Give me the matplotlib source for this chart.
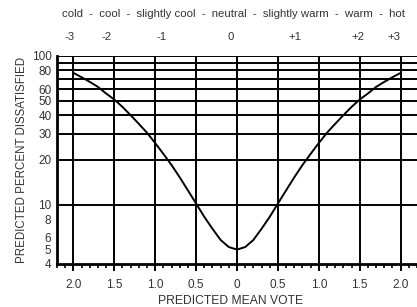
import matplotlib.pyplot as plt
from matplotlib.ticker import FixedLocator, MultipleLocator, NullFormatter

plt.rcParams['font.family'] = ['Liberation Sans', 'DejaVu Sans']

# PMV vs PPD
pmv = [-2.0, -1.9, -1.8, -1.7, -1.6, -1.5, -1.4, -1.3, -1.2, -1.1, -1.0,
       -0.9, -0.8, -0.7, -0.6, -0.5, -0.4, -0.3, -0.2, -0.1, 0.0,
       0.1, 0.2, 0.3, 0.4, 0.5, 0.6, 0.7, 0.8, 0.9, 1.0,
       1.1, 1.2, 1.3, 1.4, 1.5, 1.6, 1.7, 1.8, 1.9, 2.0]
ppd = [77, 72, 67, 62, 56, 51, 45.5, 40, 35, 30.5, 26,
       22, 18.5, 15.3, 12.5, 10.2, 8.3, 6.9, 5.8, 5.2, 5.0,
       5.2, 5.8, 6.9, 8.3, 10.2, 12.5, 15.3, 18.5, 22, 26,
       30.5, 35, 40, 45.5, 51, 56, 62, 67, 72, 77]

x_ticks = [-2.0, -1.5, -1.0, -0.5, 0, 0.5, 1.0, 1.5, 2.0]
x_labels = ['2.0', '1.5', '1.0', '0.5', '0', '0.5', '1.0', '1.5', '2.0']
y_grid = [10, 20, 30, 40, 50, 60, 70, 80, 90, 100]
y_ticks = [4, 5, 6, 8, 10, 20, 30, 40, 50, 60, 80, 100]

sensation = 'cold  -  cool  -  slightly cool  -  neutral  -  slightly warm  -  warm  -  hot'
scale_labels = ['-3', '-2', '-1', '0', '+1', '+2', '+3']
scale_x = [70, 107, 162, 231, 295, 358, 394]   # pixel positions under the words

W, H = 417, 307
fig = plt.figure(figsize=(W / 100, H / 100), dpi=100)
ax = fig.add_axes([57 / W, (H - 264) / H, 1 - 57 / W, (264 - 56) / H])

ax.set_yscale('log')
ax.set_xlim(-2.2, 2.2)
ax.set_ylim(4, 100)

# grid
for g in y_grid:
    ax.axhline(g, color='black', lw=1.4, zorder=1)
for t in x_ticks:
    ax.axvline(t, color='black', lw=1.4, zorder=1)

ax.plot(pmv, ppd, color='black', lw=1.4, zorder=3)

ax.set_xticks(x_ticks)
ax.set_xticklabels(x_labels)
ax.xaxis.set_minor_locator(MultipleLocator(0.1))
ax.tick_params(axis='x', which='major', direction='out', length=5, width=1.4,
               labelsize=8.5, pad=6, colors='black', labelcolor='#333333')
ax.tick_params(axis='x', which='minor', direction='out', length=3, width=1.2)

ax.yaxis.set_major_locator(FixedLocator(y_ticks))
ax.yaxis.set_minor_locator(FixedLocator([]))
ax.set_yticklabels([str(v) for v in y_ticks])
ax.yaxis.set_minor_formatter(NullFormatter())
ax.tick_params(axis='y', which='major', length=0, labelsize=8.5, pad=4,
               labelcolor='#333333')

for s in ['top', 'right']:
    ax.spines[s].set_visible(False)
ax.spines['left'].set_linewidth(2)
ax.spines['bottom'].set_linewidth(2)

fig.text(231 / W, 1 - 301 / H, 'PREDICTED MEAN VOTE', ha='center', va='center',
         fontsize=8.7, color='#333333')
fig.text(22 / W, 1 - 160 / H, 'PREDICTED PERCENT DISSATISFIED', ha='center',
         va='center', rotation=90, fontsize=8.3, color='#333333')

fig.text(233 / W, 1 - 14 / H, sensation, ha='center', va='center',
         fontsize=8.2, color='#333333')
for lab, px in zip(scale_labels, scale_x):
    fig.text(px / W, 1 - 37 / H, lab, ha='center', va='center',
             fontsize=8.2, color='#333333')

fig.savefig('out.png', dpi=100)
